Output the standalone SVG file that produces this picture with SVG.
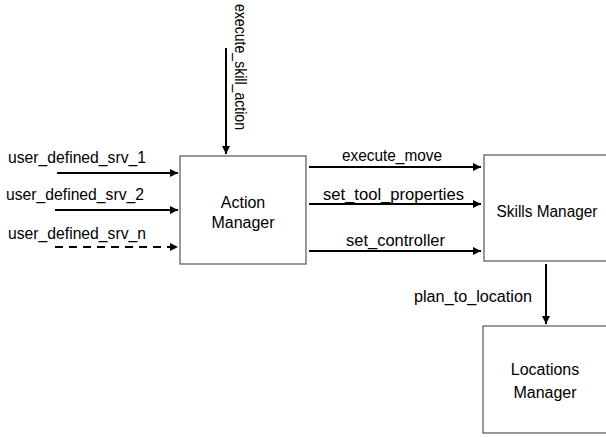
<svg xmlns="http://www.w3.org/2000/svg" width="606" height="437" viewBox="0 0 606 437">
<style>
text{font-family:"Liberation Sans",Arial,sans-serif;font-size:16px;fill:#000}
.box{fill:#fff;stroke:#555;stroke-width:1.2}
.c{stroke:#000;stroke-width:2;fill:none}
.d{stroke-dasharray:8,6}
</style>
<defs>
<marker id="ah" viewBox="0 0 10 10" refX="10" refY="5" markerWidth="4" markerHeight="4" orient="auto" markerUnits="strokeWidth">
<path d="M0,0 L10,5 L0,10 z" fill="#000"/>
</marker>
</defs>
<rect width="606" height="437" fill="#fff"/>
<g id="action-manager">
<rect class="box" x="180" y="156" width="126" height="108"/>
<text x="243" y="208" text-anchor="middle">Action</text>
<text x="243" y="228" text-anchor="middle">Manager</text>
</g>
<g id="skills-manager">
<rect class="box" x="484" y="155" width="130" height="106"/>
<text x="547" y="217" text-anchor="middle" textLength="101" lengthAdjust="spacingAndGlyphs">Skills Manager</text>
</g>
<g id="locations-manager">
<rect class="box" x="483" y="326" width="130" height="107"/>
<text x="545" y="375" text-anchor="middle">Locations</text>
<text x="545" y="398" text-anchor="middle">Manager</text>
</g>
<g id="connectors">
<line class="c" x1="226" y1="48" x2="226" y2="154" marker-end="url(#ah)"/>
<text transform="translate(235,4) rotate(90)" textLength="126" lengthAdjust="spacingAndGlyphs">execute_skill_action</text>
<line class="c" x1="57" y1="173" x2="178" y2="173" marker-end="url(#ah)"/>
<text x="8" y="163" textLength="138" lengthAdjust="spacingAndGlyphs">user_defined_srv_1</text>
<line class="c" x1="55" y1="210" x2="178" y2="210" marker-end="url(#ah)"/>
<text x="6" y="200" textLength="138" lengthAdjust="spacingAndGlyphs">user_defined_srv_2</text>
<line class="c d" x1="55" y1="247" x2="178" y2="247" marker-end="url(#ah)"/>
<text x="8" y="239" textLength="138" lengthAdjust="spacingAndGlyphs">user_defined_srv_n</text>
<line class="c" x1="309" y1="167" x2="481" y2="167" marker-end="url(#ah)"/>
<text x="342" y="161" textLength="100" lengthAdjust="spacingAndGlyphs">execute_move</text>
<line class="c" x1="309" y1="204" x2="481" y2="204" marker-end="url(#ah)"/>
<text x="323" y="200" textLength="141" lengthAdjust="spacingAndGlyphs">set_tool_properties</text>
<line class="c" x1="309" y1="251" x2="481" y2="251" marker-end="url(#ah)"/>
<text x="346" y="246" textLength="99" lengthAdjust="spacingAndGlyphs">set_controller</text>
<line class="c" x1="546" y1="264" x2="546" y2="324" marker-end="url(#ah)"/>
<text x="414" y="302" textLength="118" lengthAdjust="spacingAndGlyphs">plan_to_location</text>
</g>
</svg>
